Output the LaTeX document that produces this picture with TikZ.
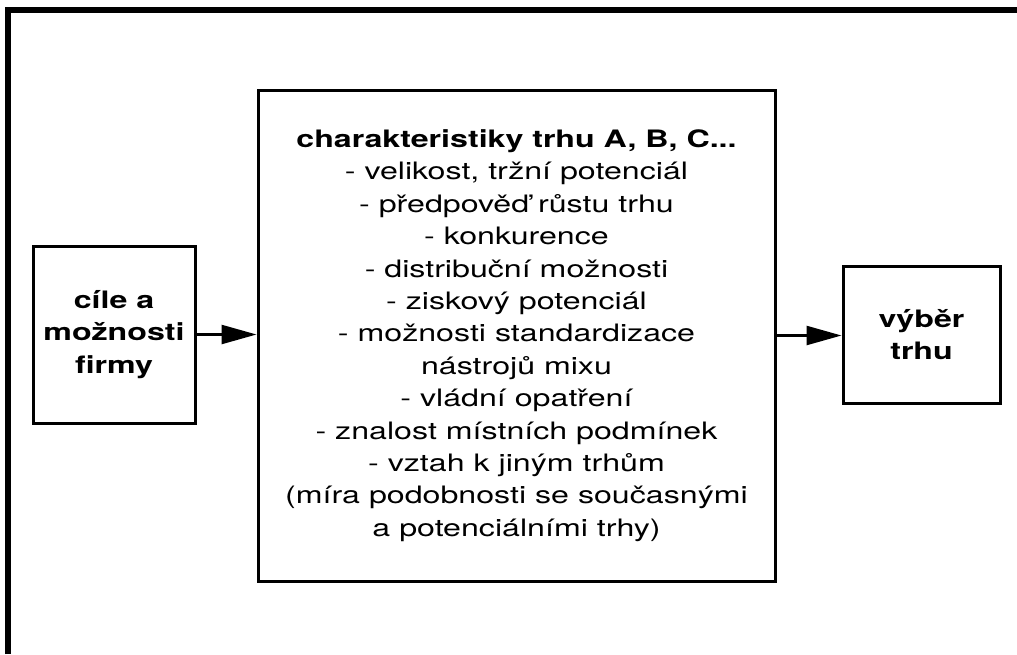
\documentclass[tikz,border=0pt]{standalone}
\usepackage{fontspec}
\setmainfont{TeX Gyre Heros}[FakeStretch=1.34]
\usetikzlibrary{arrows.meta}
\begin{document}
\begin{tikzpicture}[x=1pt,y=-1pt,
  box/.style={draw, line width=3pt, align=center, inner sep=0pt,
    font=\fontsize{24}{32.4}\selectfont},
  arr/.style={line width=2.5pt, -{Triangle[length=35pt,width=19pt]}}]
\useasboundingbox (0,0) rectangle (1017,654);
\draw[line width=6pt] (8,654) -- (8,10) -- (1017,10);
\node[box, minimum width=162pt, minimum height=177pt] (lb) at (114,334.5)
  {\textbf{cíle a}\\ \textbf{možnosti}\\ \textbf{firmy}};
\node[box, minimum width=517pt, minimum height=491pt] (mb) at (516.5,335.5)
  {\textbf{charakteristiky trhu A, B, C...}\\
   - velikost, tržní potenciál\\
   - předpověď růstu trhu\\
   - konkurence\\
   - distribuční možnosti\\
   - ziskový potenciál\\
   - možnosti standardizace\\
   nástrojů mixu\\
   - vládní opatření\\
   - znalost místních podmínek\\
   - vztah k jiným trhům\\
   (míra podobnosti se současnými\\
   a potenciálními trhy)};
\node[box, minimum width=157pt, minimum height=137pt] (rb) at (921.5,334.5)
  {\textbf{výběr}\\ \textbf{trhu}};
\draw[arr] (lb.east) -- (lb.east -| mb.west);
\draw[arr] (mb.east) -- (mb.east -| rb.west);
\end{tikzpicture}
\end{document}
